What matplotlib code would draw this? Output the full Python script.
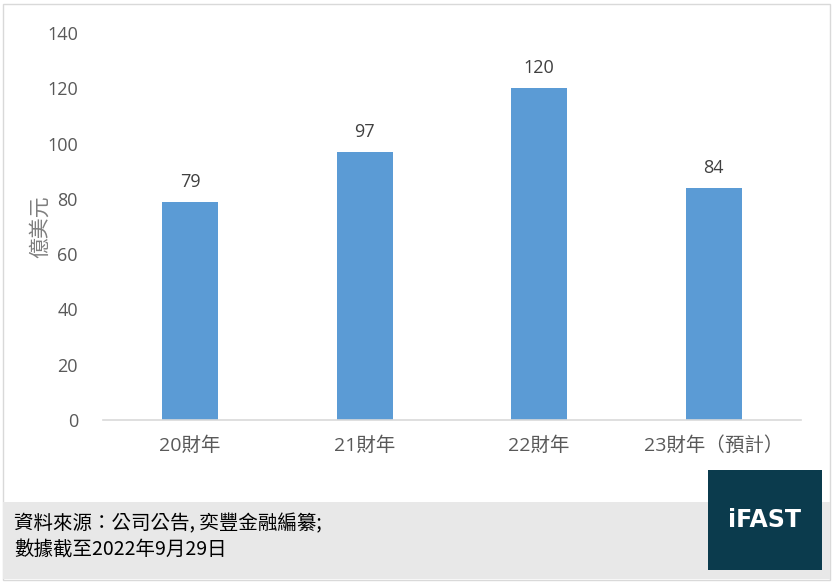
import matplotlib.pyplot as plt
from matplotlib.patches import Rectangle

plt.rcParams['font.family'] = ['Open Sans', 'Noto Sans CJK TC', 'DejaVu Sans']

# data
categories = ['20財年', '21財年', '22財年', '23財年（預計）']
values = [79, 97, 120, 84]
y_ticks = [0, 20, 40, 60, 80, 100, 120, 140]

fig = plt.figure(figsize=(8.37, 5.84), dpi=100)
fig.patch.set_facecolor('white')

# outer frame
fig.patches.append(Rectangle((3 / 837, 4 / 584), 827 / 837, 576 / 584, transform=fig.transFigure,
                             facecolor='none', edgecolor='#d9d9d9', linewidth=1))

ax = fig.add_axes([103 / 837, 1 - 420 / 584, 698 / 837, 387 / 584])
x = range(len(categories))
bars = ax.bar(x, values, width=0.32, color='#5b9bd5')
for b, v in zip(bars, values):
    ax.text(b.get_x() + b.get_width() / 2, v + 4, str(v), ha='center', va='bottom',
            fontsize=13, color='#404040')

ax.set_xlim(-0.5, len(categories) - 0.5)
ax.set_ylim(0, 140)
ax.set_yticks(y_ticks)
ax.set_xticks(list(x))
ax.set_xticklabels(categories)
ax.tick_params(axis='both', length=0, labelsize=13, colors='#595959')
ax.tick_params(axis='x', labelsize=14, pad=12)
ax.tick_params(axis='y', pad=18)
for s in ['top', 'right', 'left']:
    ax.spines[s].set_visible(False)
ax.spines['bottom'].set_color('#d9d9d9')
ax.spines['bottom'].set_linewidth(1.2)
ax.set_ylabel('億美元', fontsize=15, color='#7f7f7f', labelpad=-3)

# footer
fig.patches.append(Rectangle((3 / 837, 1 - 579 / 584), 827 / 837, 77 / 584, transform=fig.transFigure,
                             facecolor='#e8e8e8', edgecolor='none'))
fig.text(14 / 837, 1 - 524 / 584, '資料來源：公司公告, 奕豐金融編纂;', fontsize=14, color='black',
         va='center', ha='left', family='Noto Sans CJK TC')
fig.text(14 / 837, 1 - 550 / 584, '數據截至2022年9月29日', fontsize=14, color='black',
         va='center', ha='left', family='Noto Sans CJK TC')

# logo box
fig.patches.append(Rectangle((708 / 837, 1 - 570 / 584), 114 / 837, 100 / 584, transform=fig.transFigure,
                             facecolor='#0b3b4d', edgecolor='none'))
fig.text(765 / 837, 1 - 520 / 584, 'iFAST', fontsize=17, fontweight='bold', color='white',
         ha='center', va='center', family='DejaVu Sans')

fig.savefig('out.png', dpi=100)
